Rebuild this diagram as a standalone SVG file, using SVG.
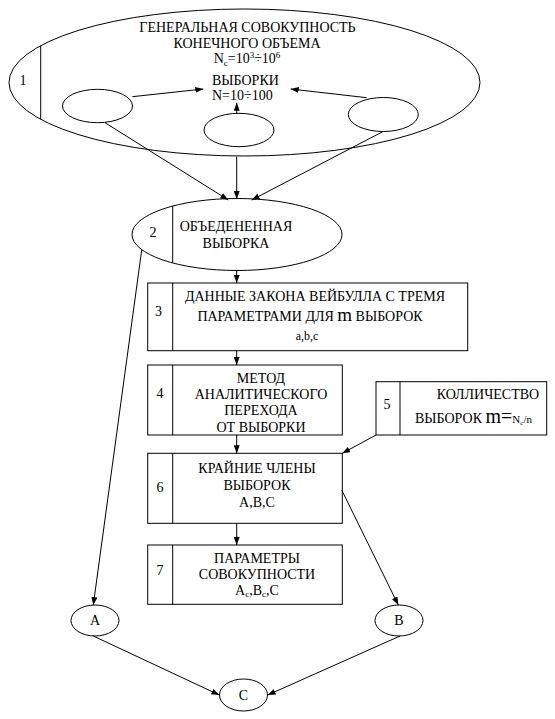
<svg xmlns="http://www.w3.org/2000/svg" width="555" height="719" viewBox="0 0 555 719">
<defs>
<marker id="arr" markerWidth="8" markerHeight="6" refX="8" refY="3" orient="auto" markerUnits="userSpaceOnUse">
<path d="M0,0 L8,3 L0,6 z" fill="#000"/>
</marker>
<style>
.s{fill:none;stroke:#000;stroke-width:1}
.m{text-anchor:middle}
.c line{stroke:#000;stroke-width:1;marker-end:url(#arr)}
</style>
</defs>
<rect width="555" height="719" fill="#fff"/>
<g font-family="'Liberation Serif', 'Times New Roman', 'DejaVu Serif', serif" font-size="14" fill="#000">
<g id="n1">
<ellipse class="s" cx="244.5" cy="82.5" rx="235.5" ry="73.5"/>
<line class="s" x1="40.7" y1="45.7" x2="40.7" y2="119.3"/>
<text class="m" x="23" y="85">1</text>
<text class="m" x="247.5" y="32">ГЕНЕРАЛЬНАЯ СОВОКУПНОСТЬ</text>
<text class="m" x="247" y="48">КОНЕЧНОГО ОБЪЕМА</text>
<text class="m" x="247" y="63">N<tspan font-size="9" dy="3">c</tspan><tspan dy="-3">=10</tspan><tspan font-size="9" dy="-5">3</tspan><tspan dy="5">÷10</tspan><tspan font-size="9" dy="-5">6</tspan></text>
<text x="212" y="85">ВЫБОРКИ</text>
<text x="212" y="100">N=10÷100</text>
</g>
<g id="s1"><ellipse class="s" cx="97.5" cy="106" rx="35" ry="16.7"/></g>
<g id="s2"><ellipse class="s" cx="239" cy="130" rx="35" ry="16.7"/></g>
<g id="s3"><ellipse class="s" cx="383.3" cy="114.5" rx="35" ry="17"/></g>
<g id="n2">
<ellipse class="s" cx="237" cy="234.5" rx="105" ry="36"/>
<line class="s" x1="172.7" y1="206" x2="172.7" y2="263"/>
<text class="m" x="153" y="237">2</text>
<text class="m" x="236" y="231">ОБЪЕДЕНЕННАЯ</text>
<text class="m" x="236" y="248">ВЫБОРКА</text>
</g>
<g id="n3">
<rect class="s" x="147.7" y="283" width="320" height="67.7"/>
<line class="s" x1="172.7" y1="283" x2="172.7" y2="350.7"/>
<text class="m" x="158.5" y="316">3</text>
<text class="m" x="315" y="301">ДАННЫЕ ЗАКОНА ВЕЙБУЛЛА С ТРЕМЯ</text>
<text class="m" x="310" y="321">ПАРАМЕТРАМИ ДЛЯ <tspan font-size="19">m</tspan> ВЫБОРОК</text>
<text class="m" x="307" y="340" font-size="12">a,b,c</text>
</g>
<g id="n4">
<rect class="s" x="147.7" y="365" width="194.6" height="70"/>
<line class="s" x1="172.7" y1="365" x2="172.7" y2="435"/>
<text class="m" x="160" y="398">4</text>
<text class="m" x="261" y="383">МЕТОД</text>
<text class="m" x="261" y="399">АНАЛИТИЧЕСКОГО</text>
<text class="m" x="261" y="415">ПЕРЕХОДА</text>
<text class="m" x="261" y="431.5">ОТ ВЫБОРКИ</text>
</g>
<g id="n5">
<rect class="s" x="376" y="381.7" width="170.7" height="53.3"/>
<line class="s" x1="400" y1="381.7" x2="400" y2="435"/>
<text class="m" x="387" y="409">5</text>
<text x="436.7" y="399.3">КОЛЛИЧЕСТВО</text>
<text x="415" y="423.3">ВЫБОРОК <tspan font-size="20">m=</tspan><tspan font-size="11">N</tspan><tspan font-size="7" dy="2">c</tspan><tspan font-size="11" dy="-2">/n</tspan></text>
</g>
<g id="n6">
<rect class="s" x="147.7" y="453.3" width="194.6" height="70"/>
<line class="s" x1="172.7" y1="453.3" x2="172.7" y2="523.3"/>
<text class="m" x="160" y="492">6</text>
<text class="m" x="257" y="473">КРАЙНИЕ ЧЛЕНЫ</text>
<text class="m" x="257" y="490">ВЫБОРОК</text>
<text class="m" x="257" y="506.7">A,B,C</text>
</g>
<g id="n7">
<rect class="s" x="147.7" y="545" width="194.6" height="59.3"/>
<line class="s" x1="172.7" y1="545" x2="172.7" y2="604.3"/>
<text class="m" x="160" y="575">7</text>
<text class="m" x="257" y="563.3">ПАРАМЕТРЫ</text>
<text class="m" x="257" y="579">СОВОКУПНОСТИ</text>
<text class="m" x="257" y="595">A<tspan font-size="9" dy="2">c</tspan><tspan dy="-2">,B</tspan><tspan font-size="9" dy="2">c</tspan><tspan dy="-2">,C</tspan></text>
</g>
<g id="nA">
<ellipse class="s" cx="95" cy="620.5" rx="24" ry="15.5"/>
<text class="m" x="95" y="625">A</text>
</g>
<g id="nB">
<ellipse class="s" cx="399" cy="620.5" rx="24" ry="15.5"/>
<text class="m" x="399" y="625">B</text>
</g>
<g id="nC">
<ellipse class="s" cx="243.5" cy="695" rx="24" ry="16"/>
<text class="m" x="243.5" y="699.5">C</text>
</g>
</g>
<g id="connectors" class="c">
<line x1="132.3" y1="96.7" x2="203.3" y2="89"/>
<line x1="366.7" y1="97.7" x2="290.7" y2="89"/>
<line x1="236.7" y1="113.3" x2="236.7" y2="102.7"/>
<line x1="105" y1="122.7" x2="228.3" y2="200"/>
<line x1="236.7" y1="156.7" x2="236.7" y2="199"/>
<line x1="382.7" y1="131.7" x2="251.7" y2="200"/>
<line x1="236.7" y1="270.5" x2="236.7" y2="283"/>
<line x1="236.7" y1="350.7" x2="236.7" y2="365"/>
<line x1="236.7" y1="435" x2="236.7" y2="453.3"/>
<line x1="376" y1="435" x2="342.3" y2="453.3"/>
<line x1="236.7" y1="523.3" x2="236.7" y2="545"/>
<line x1="141.7" y1="250" x2="93.3" y2="605"/>
<line x1="341.7" y1="490" x2="398.3" y2="605"/>
<line x1="93.3" y1="636" x2="219.3" y2="695"/>
<line x1="400" y1="636" x2="267.7" y2="695"/>
</g>
</svg>
